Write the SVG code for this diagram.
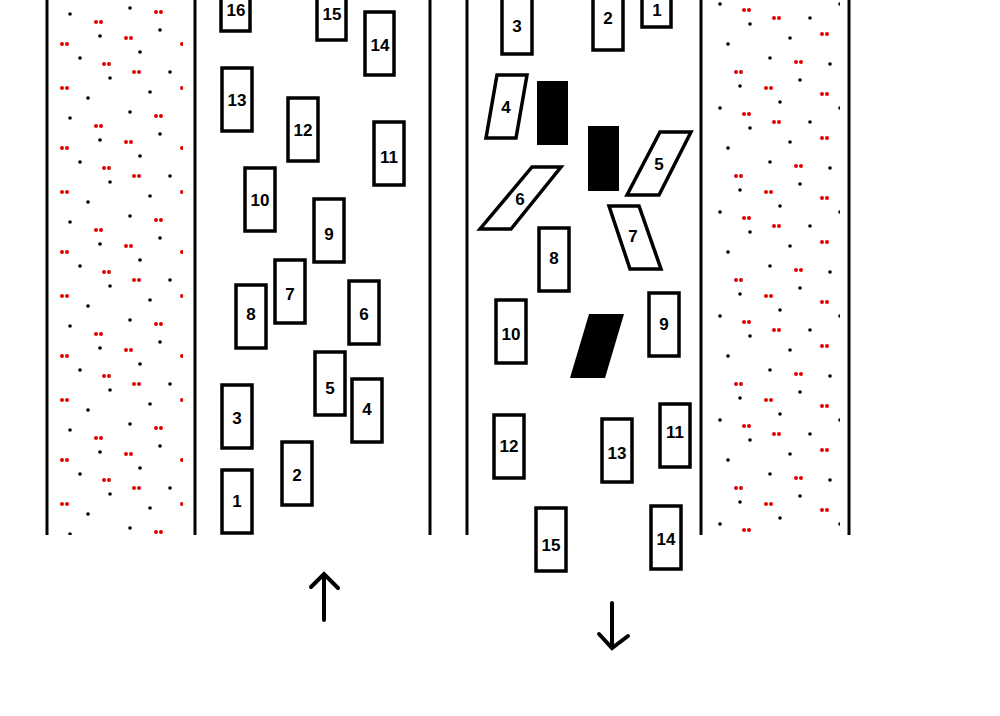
<svg xmlns="http://www.w3.org/2000/svg" width="1000" height="716" viewBox="0 0 1000 716">
<defs>
<pattern id="dots" width="120" height="104" patternUnits="userSpaceOnUse">
<g fill="#000"><circle cx="10" cy="8" r="1.8"/><circle cx="70" cy="14" r="1.8"/><circle cx="40" cy="30" r="1.8"/><circle cx="100" cy="36" r="1.8"/><circle cx="20" cy="52" r="1.8"/><circle cx="80" cy="58" r="1.8"/><circle cx="50" cy="72" r="1.8"/><circle cx="110" cy="78" r="1.8"/><circle cx="30" cy="92" r="1.8"/><circle cx="88" cy="98" r="1.8"/></g>
<g fill="#e00000"><circle cx="36" cy="12" r="2"/><circle cx="41" cy="12" r="2"/><circle cx="96" cy="22" r="2"/><circle cx="101" cy="22" r="2"/><circle cx="6" cy="38" r="2"/><circle cx="11" cy="38" r="2"/><circle cx="62" cy="44" r="2"/><circle cx="67" cy="44" r="2"/><circle cx="104" cy="64" r="2"/><circle cx="109" cy="64" r="2"/><circle cx="14" cy="72" r="2"/><circle cx="19" cy="72" r="2"/><circle cx="62" cy="88" r="2"/><circle cx="67" cy="88" r="2"/></g>
</pattern>
<pattern id="dots2" href="#dots" x="40" y="50"/>
</defs>
<style>
.l{stroke:#000;stroke-width:3;fill:none}
.c{fill:#fff;stroke:#000;stroke-width:3.5}
.b{fill:#000}
text{font-family:"Liberation Sans",sans-serif;font-weight:bold;font-size:17px;text-anchor:middle;dominant-baseline:central}
</style>
<rect width="1000" height="716" fill="#fff"/>
<rect x="58" y="0" width="125" height="535" fill="url(#dots)"/>
<rect x="712" y="0" width="128" height="535" fill="url(#dots2)"/>
<g class="l"><path d="M47 0V535M195 0V535M430 0V535M467 0V535M701 0V535M849 0V535"/></g>
<g id="left">
<rect class="c" x="221" y="-30" width="29" height="61"/><text x="236" y="10">16</text>
<rect class="c" x="317" y="-20" width="29" height="60"/><text x="332" y="14">15</text>
<rect class="c" x="365" y="12" width="29" height="63"/><text x="380" y="45">14</text>
<rect class="c" x="222" y="68" width="30" height="63"/><text x="237" y="100">13</text>
<rect class="c" x="288" y="98" width="30" height="63"/><text x="303" y="130">12</text>
<rect class="c" x="374" y="122" width="30" height="63"/><text x="389" y="157">11</text>
<rect class="c" x="245" y="168" width="30" height="63"/><text x="260" y="200">10</text>
<rect class="c" x="314" y="199" width="30" height="63"/><text x="329" y="234">9</text>
<rect class="c" x="275" y="260" width="30" height="63"/><text x="290" y="294">7</text>
<rect class="c" x="236" y="285" width="30" height="63"/><text x="251" y="314">8</text>
<rect class="c" x="349" y="281" width="30" height="63"/><text x="364" y="314">6</text>
<rect class="c" x="315" y="352" width="30" height="63"/><text x="330" y="388">5</text>
<rect class="c" x="352" y="379" width="30" height="63"/><text x="367" y="409">4</text>
<rect class="c" x="222" y="385" width="30" height="63"/><text x="237" y="418">3</text>
<rect class="c" x="282" y="442" width="30" height="63"/><text x="297" y="475">2</text>
<rect class="c" x="222" y="470" width="30" height="63"/><text x="237" y="501">1</text>
</g>
<g id="right">
<rect class="c" x="502" y="-10" width="30" height="64"/><text x="517" y="26">3</text>
<rect class="c" x="593" y="-10" width="30" height="60"/><text x="608" y="18">2</text>
<rect class="c" x="642" y="-10" width="29" height="37"/><text x="657" y="10">1</text>
<polygon class="c" points="497,75 527,75 516,138 486,138"/><text x="506" y="107">4</text>
<rect class="b" x="537" y="81" width="31" height="64"/>
<rect class="b" x="588" y="126" width="31" height="65"/>
<polygon class="c" points="660,132 691,132 659,195 627,195"/><text x="659" y="164">5</text>
<polygon class="c" points="532,167 561,167 511,229 480,229"/><text x="520" y="199">6</text>
<polygon class="c" points="609,206 639,206 661,269 630,269"/><text x="633" y="236">7</text>
<rect class="c" x="539" y="228" width="30" height="63"/><text x="554" y="258">8</text>
<polygon class="b" points="589,314 624,314 605,378 570,378"/>
<rect class="c" x="649" y="293" width="30" height="63"/><text x="664" y="324">9</text>
<rect class="c" x="496" y="300" width="30" height="63"/><text x="511" y="334">10</text>
<rect class="c" x="494" y="415" width="30" height="63"/><text x="509" y="446">12</text>
<rect class="c" x="602" y="419" width="30" height="63"/><text x="617" y="453">13</text>
<rect class="c" x="660" y="404" width="30" height="63"/><text x="675" y="432">11</text>
<rect class="c" x="536" y="508" width="30" height="63"/><text x="551" y="545">15</text>
<rect class="c" x="651" y="506" width="30" height="63"/><text x="666" y="539">14</text>
</g>
<g id="arrows" stroke="#000" stroke-width="4" fill="none" stroke-linecap="round">
<path d="M324 620V576M311 587L324 574L338 588"/>
<path d="M612 603V648M599 634L612 648L628 636"/>
</g>
</svg>
